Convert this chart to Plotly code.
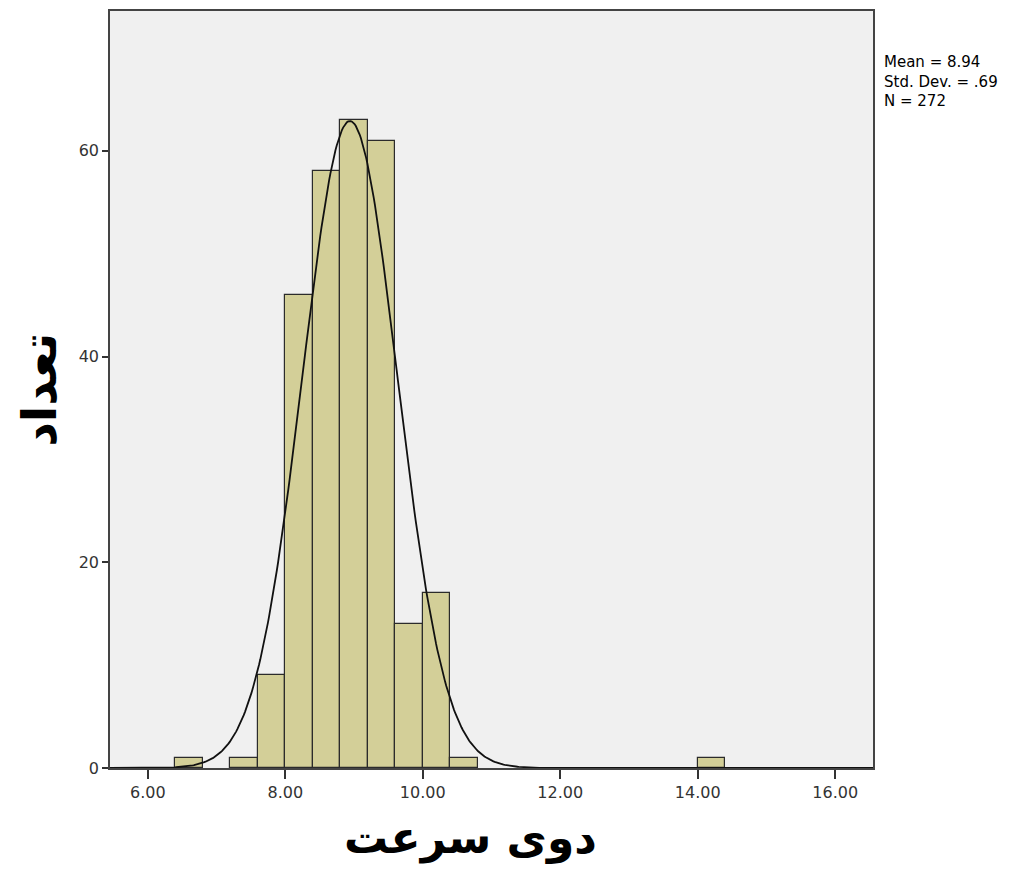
import numpy as np
import plotly.graph_objects as go

# Histogram bins (left edges) and counts
bin_left = [6.4, 7.2, 7.6, 8.0, 8.4, 8.8, 9.2, 9.6, 10.0, 10.4, 14.0]
counts = [1, 1, 9, 46, 58, 63, 61, 14, 17, 1, 1]
bin_width = 0.4

# Summary statistics shown in the chart
mean_val = 8.94
sd_val = 0.69
n_val = 272

x_ticks = [6, 8, 10, 12, 14, 16]
x_tick_labels = ["6.00", "8.00", "10.00", "12.00", "14.00", "16.00"]
y_ticks = [0, 20, 40, 60]
x_title = "دوی سرعت"
y_title = "تعداد"
stats_lines = [
    f"Mean = {mean_val:.2f}",
    "Std. Dev. = " + f"{sd_val:.2f}".lstrip("0"),
    f"N = {n_val}",
]

centers = [b + bin_width / 2 for b in bin_left]

# Fitted normal curve from the displayed mean / sd / N
xc = np.linspace(5.45, 16.55, 600)
yc = n_val * bin_width / (sd_val * np.sqrt(2 * np.pi)) * np.exp(-0.5 * ((xc - mean_val) / sd_val) ** 2)

fig = go.Figure()
fig.add_trace(go.Bar(
    x=centers, y=counts, width=bin_width,
    marker=dict(color="#d3cf98", line=dict(color="#2b2b2b", width=1.2)),
    showlegend=False, hoverinfo="x+y",
))
fig.add_trace(go.Scatter(
    x=xc, y=yc, mode="lines",
    line=dict(color="#111111", width=1.8),
    showlegend=False, hoverinfo="skip",
))

annotations = [
    dict(x=0.472, y=-0.092, xref="paper", yref="paper",
         xanchor="center", yanchor="middle", showarrow=False,
         text=f"<b>{x_title}</b>",
         font=dict(family="DejaVu Sans", size=44, color="black")),
    dict(x=-0.094, y=0.5, xref="paper", yref="paper", textangle=-90,
         xanchor="center", yanchor="middle", showarrow=False,
         text=f"<b>{y_title}</b>",
         font=dict(family="DejaVu Sans", size=48, color="black")),
    dict(x=1.0, y=1.0, xref="paper", yref="paper",
         xanchor="left", yanchor="top", xshift=9, yshift=-40,
         align="left", showarrow=False, text="<br>".join(stats_lines),
         font=dict(family="DejaVu Sans", size=15, color="black")),
]

fig.update_layout(
    width=1015, height=862,
    margin=dict(l=102, r=150, t=3, b=102, autoexpand=False),
    paper_bgcolor="white",
    plot_bgcolor="#f0f0f0",
    bargap=0,
    font=dict(family="DejaVu Sans", size=16, color="#333333"),
    xaxis=dict(
        range=[5.45, 16.55], automargin=False,
        tickvals=x_ticks, ticktext=x_tick_labels,
        ticks="outside", ticklen=9, tickwidth=1.5, tickcolor="#333333",
        showgrid=False, zeroline=False,
        showline=True, linecolor="#444444", linewidth=1.5, mirror=True,
        tickfont=dict(family="DejaVu Sans", size=16, color="#333333"),
    ),
    yaxis=dict(
        range=[0, 73.6], automargin=False,
        tickvals=y_ticks,
        ticks="outside", ticklen=6, tickwidth=1.5, tickcolor="#333333",
        showgrid=False, zeroline=False,
        showline=True, linecolor="#444444", linewidth=1.5, mirror=True,
        tickfont=dict(family="DejaVu Sans", size=16, color="#333333"),
    ),
    annotations=annotations,
)

fig.write_html("out.html")
